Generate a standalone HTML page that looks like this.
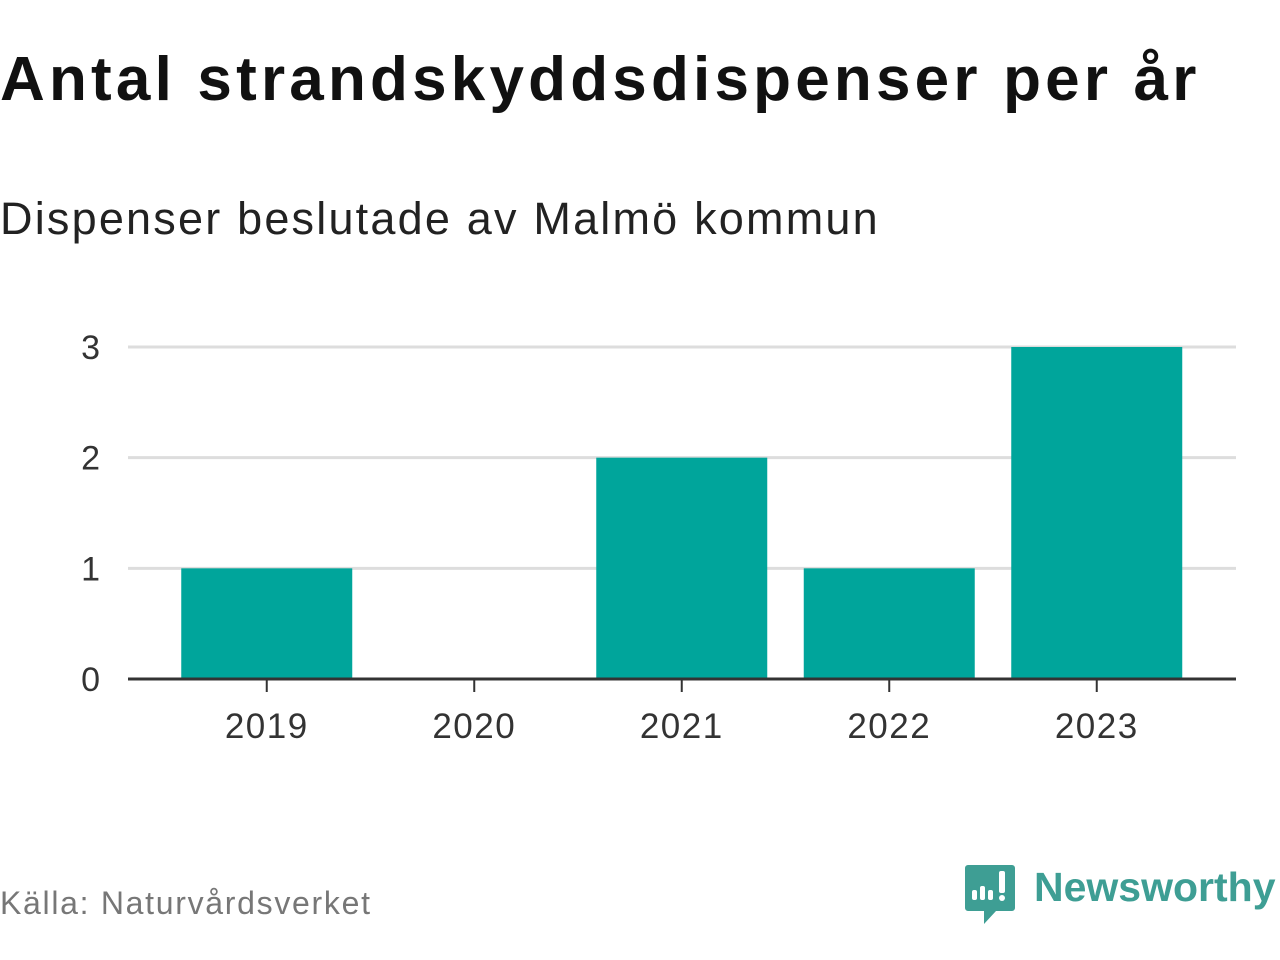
<!DOCTYPE html>
<html><head><meta charset="utf-8"><style>
body{margin:0;width:1280px;height:960px;background:#fff;font-family:"Liberation Sans",sans-serif;overflow:hidden;position:relative}
.t{position:absolute;white-space:nowrap}
</style></head><body>
<div class="t" style="left:0;top:44px;font-size:62px;font-weight:bold;color:#111;letter-spacing:4.2px">Antal strandskyddsdispenser per år</div>
<div class="t" style="left:0;top:193px;font-size:45px;color:#222;letter-spacing:2.2px">Dispenser beslutade av Malmö kommun</div>
<svg id="chart" width="1280" height="960" style="position:absolute;left:0;top:0"></svg>
<div class="t" style="left:0;top:885px;font-size:32px;color:#777;letter-spacing:1.7px">Källa: Naturvårdsverket</div>
<svg width="52" height="62" style="position:absolute;left:964px;top:864px">
<path d="M4 1h44a3 3 0 0 1 3 3v40a3 3 0 0 1-3 3H32l-12 13v-13H4a3 3 0 0 1-3-3V4a3 3 0 0 1 3-3z" fill="#3e9e94"/>
<rect x="8" y="26" width="5" height="10" rx="2" fill="#fff"/><rect x="16" y="22" width="5" height="14" rx="2" fill="#fff"/><rect x="24" y="26" width="5" height="10" rx="2" fill="#fff"/><rect x="35" y="7" width="6" height="22" rx="2" fill="#fff"/><circle cx="38" cy="34" r="3" fill="#fff"/>
</svg>
<div class="t" style="left:1034px;top:864px;font-size:41px;font-weight:bold;color:#3e9e94;letter-spacing:0px">Newsworthy</div>
<script>
const categories=["2019","2020","2021","2022","2023"];
const values=[1,0,2,1,3];
const yTicks=[0,1,2,3];
const svg=document.getElementById('chart');
const NS='http://www.w3.org/2000/svg';
const x0=163,bandW=207.5,barW=171;
const y=v=>679-v*110.67;
const xc=i=>x0+bandW*i+bandW/2;
function mk(t,a){const e=document.createElementNS(NS,t);for(const k in a)e.setAttribute(k,a[k]);svg.appendChild(e);return e;}
yTicks.forEach(v=>{
 if(v>0){const g=mk('line',{x1:128,x2:1236,y1:y(v),y2:y(v),stroke:'#ddd','stroke-width':3});
 
 }
 const t=mk('text',{x:100,y:y(v)+12,'text-anchor':'end','font-size':34,fill:'#333','font-family':'Liberation Sans'});
 t.textContent=v;
 
 
});
categories.forEach((c,i)=>{
 const b=mk('rect',{x:xc(i)-barW/2,y:y(values[i]),width:barW,height:679-y(values[i]),fill:'#00a59b'});
 
 
 const tk=mk('line',{x1:xc(i),x2:xc(i),y1:679,y2:692,stroke:'#333','stroke-width':2});
 
 
 const t=mk('text',{x:xc(i),y:738,'text-anchor':'middle','font-size':35,fill:'#333','font-family':'Liberation Sans','letter-spacing':1.5});
 t.textContent=c;
 
 
});
const ax=mk('line',{x1:128,x2:1236,y1:679,y2:679,stroke:'#333','stroke-width':3});


</script>
</body></html>
